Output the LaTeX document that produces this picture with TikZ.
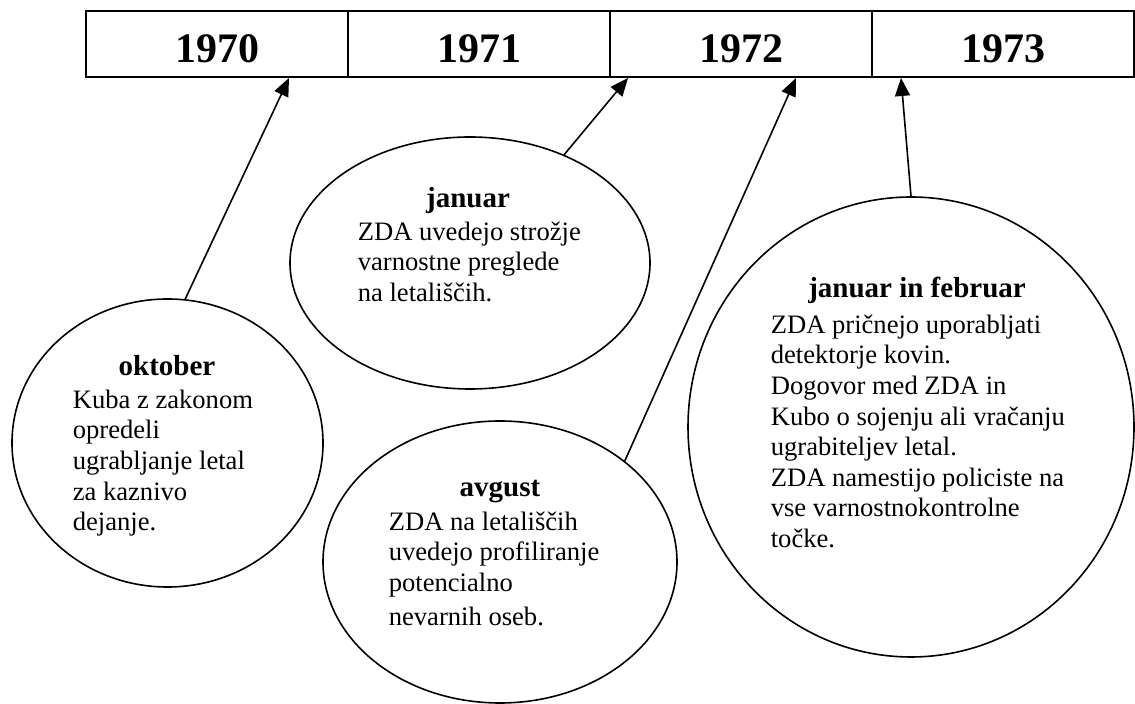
\documentclass[tikz,border=0pt]{standalone}
\usepackage{fontspec}
\setmainfont{Liberation Serif}
\usetikzlibrary{shapes.geometric, arrows.meta}

\begin{document}
\begin{tikzpicture}[x=0.5pt, y=-0.5pt, line width=0.8pt,
    yearcell/.style={draw, line width=1pt, minimum width=131pt, minimum height=33pt,
      text height=18.2pt, text depth=0pt, font=\fontsize{21}{25}\selectfont\bfseries},
    bubble/.style={draw, ellipse, inner sep=0pt},
    head/.style={anchor=base, inner sep=0pt, font=\fontsize{14.5}{16}\selectfont\bfseries},
    note/.style={anchor=north west, inner sep=0pt, align=left, font=\fontsize{13.3}{15.3}\selectfont},
    link/.style={-{Triangle[length=9pt, width=7.5pt]}}]
  \useasboundingbox (0,0) rectangle (1135,704);
  % time line
  \node[yearcell] (y1970) at (217,44) {1970};
  \node[yearcell] (y1971) at (479,44) {1971};
  \node[yearcell] (y1972) at (741,44) {1972};
  \node[yearcell] (y1973) at (1003,44) {1973};
  \coordinate (t1) at (289,78);
  \coordinate (t2) at (628,78);
  \coordinate (t3) at (796,78);
  \coordinate (t4) at (901,78);
  % events
  \node[bubble, minimum width=155.5pt, minimum height=144pt] (okt) at (167.5,443) {};
  \node[head] (okt-h) at (167,376) {oktober};
  \node[note] (okt-b) at (72,389) {Kuba z zakonom\\opredeli\\ugrabljanje letal\\za kaznivo\\dejanje.};

  \node[bubble, minimum width=180pt, minimum height=126pt] (jan) at (470,263) {};
  \node[head] (jan-h) at (468,208) {januar};
  \node[note] (jan-b) at (357,221) {ZDA uvedejo strožje\\varnostne preglede\\na letališčih.};

  \node[bubble, minimum width=177pt, minimum height=141pt] (avg) at (500,562) {};
  \node[head] (avg-h) at (500,497) {avgust};
  \node[note] (avg-b) at (388,511) {ZDA na letališčih\\uvedejo profiliranje\\potencialno\\[1.5pt]nevarnih oseb.};

  \node[bubble, minimum width=223pt, minimum height=230pt] (janfeb) at (911,427) {};
  \node[head] (janfeb-h) at (917,298) {januar in februar};
  \node[note] (janfeb-b) at (770,314) {ZDA pričnejo uporabljati\\detektorje kovin.\\Dogovor med ZDA in\\Kubo o sojenju ali vračanju\\ugrabiteljev letal.\\ZDA namestijo policiste na\\vse varnostnokontrolne\\točke.};

  \draw[link] (okt.83) -- (t1);
  \draw[link] (jan.49) -- (t2);
  \draw[link] (avg.39) -- (t3);
  \draw[link] (janfeb.90) -- (t4);
\end{tikzpicture}
\end{document}
